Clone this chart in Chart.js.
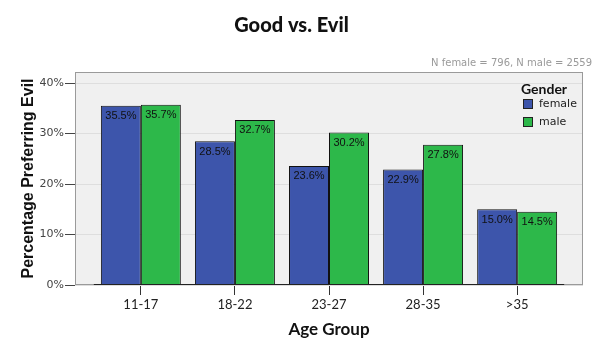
<!DOCTYPE html>
<html lang="en">
<head>
  <meta charset="UTF-8">
  <title>Good vs. Evil</title>
  <script src="https://cdn.jsdelivr.net/npm/chart.js"></script>
  <style>
    body, html {
      margin: 0;
      background: #fff;
    }
    #wrap {
      width: 600px;
      height: 350px;
    }
  </style>
</head>
<body>
  <div id="wrap"><canvas id="evilChart" width="600" height="350"></canvas></div>

  <script>
    // data
    const ageGroups = ["11-17", "18-22", "23-27", "28-35", ">35"];
    const femaleValues = [35.5, 28.5, 23.6, 22.9, 15.0];
    const maleValues = [35.7, 32.7, 30.2, 27.8, 14.5];
    const yTicks = [0, 10, 20, 30, 40];
    const seriesNames = ["female", "male"];
    const noteText = "N female = 796, N male = 2559";

    const colors = ["#3d55ab", "#2db84a"];

    // background panel, baseline, data labels, legend and note
    const decorPlugin = {
      id: "decor",
      beforeDraw(chart) {
        const a = chart.chartArea;
        const ctx = chart.ctx;
        ctx.save();
        ctx.fillStyle = "#f0f0f0";
        ctx.fillRect(a.left, a.top, a.right - a.left, a.bottom - a.top);
        ctx.restore();
      },
      afterDatasetsDraw(chart) {
        const ctx = chart.ctx;
        const a = chart.chartArea;
        const xs = chart.scales.x;
        ctx.save();
        // panel border
        ctx.strokeStyle = "#9a9a9a";
        ctx.lineWidth = 1;
        ctx.strokeRect(a.left + 0.5, a.top + 0.5, a.right - a.left - 1, a.bottom - a.top - 1);
        // dark baseline under the bars
        ctx.strokeStyle = "#222";
        ctx.beginPath();
        ctx.moveTo(xs.getPixelForValue(-0.5), a.bottom - 0.5);
        ctx.lineTo(xs.getPixelForValue(ageGroups.length - 0.5), a.bottom - 0.5);
        ctx.stroke();

        // value labels inside the bar tops
        ctx.font = "11px 'Liberation Sans', sans-serif";
        ctx.fillStyle = "#111";
        ctx.textAlign = "center";
        ctx.textBaseline = "top";
        chart.data.datasets.forEach((ds, di) => {
          chart.getDatasetMeta(di).data.forEach((bar, i) => {
            ctx.fillText(ds.data[i].y.toFixed(1) + "%", bar.x, bar.y + 5);
          });
        });

        // legend
        ctx.textAlign = "left";
        ctx.textBaseline = "middle";
        ctx.font = "bold 14px Lato, sans-serif";
        ctx.fillStyle = "#111";
        ctx.fillText("Gender", 521, 89);
        ctx.font = "11px 'DejaVu Sans', sans-serif";
        seriesNames.forEach((name, i) => {
          const y = 104 + i * 18;
          ctx.fillStyle = colors[i];
          ctx.fillRect(523, y - 5, 10, 10);
          ctx.strokeStyle = "#222";
          ctx.strokeRect(523.5, y - 4.5, 9, 9);
          ctx.fillStyle = "#222";
          ctx.fillText(name, 539, y);
        });

        // sample size note
        ctx.font = "10px 'DejaVu Sans', sans-serif";
        ctx.fillStyle = "#9a9a9a";
        ctx.textAlign = "right";
        ctx.fillText(noteText, 592, 63);
        ctx.restore();
      }
    };

    const ctx = document.getElementById("evilChart").getContext("2d");
    new Chart(ctx, {
      type: "bar",
      data: {
        datasets: [
          {
            label: seriesNames[0],
            data: femaleValues.map((v, i) => ({ x: i, y: v })),
            backgroundColor: colors[0],
            borderColor: "#111",
            borderWidth: 1
          },
          {
            label: seriesNames[1],
            data: maleValues.map((v, i) => ({ x: i, y: v })),
            backgroundColor: colors[1],
            borderColor: "#111",
            borderWidth: 1
          }
        ]
      },
      options: {
        responsive: false,
        animation: false,
        categoryPercentage: 0.85,
        barPercentage: 1.0,
        layout: { padding: { left: 0, right: 17, top: 0, bottom: 0 } },
        plugins: {
          legend: { display: false },
          tooltip: { enabled: false },
          title: {
            display: true,
            text: "Good vs. Evil",
            color: "#111",
            font: { family: "Lato, sans-serif", size: 20, weight: "900" },
            padding: { top: 14, bottom: 34 }
          }
        },
        scales: {
          x: {
            type: "linear",
            offset: false,
            min: -0.7,
            max: ageGroups.length - 0.3,
            afterBuildTicks(scale) {
              scale.ticks = ageGroups.map((_, i) => ({ value: i }));
            },
            afterFit(scale) { scale.height = 65; },
            ticks: {
              callback: (v) => ageGroups[v],
              color: "#222",
              font: { family: "Lato, sans-serif", size: 13 },
              padding: 2,
              maxRotation: 0
            },
            grid: {
              offset: false,
              drawOnChartArea: false,
              drawTicks: true,
              tickLength: 10,
              tickColor: "#333"
            },
            border: { display: false },
            title: {
              display: true,
              text: "Age Group",
              color: "#111",
              font: { family: "Lato, sans-serif", size: 17, weight: "bold" },
              padding: { top: 8, bottom: 10 }
            }
          },
          y: {
            min: 0,
            max: 42.2,
            afterBuildTicks(scale) {
              scale.ticks = yTicks.map(v => ({ value: v }));
            },
            afterFit(scale) { scale.width = 75; },
            ticks: {
              callback: (v) => v + "%",
              color: "#444",
              font: { family: "'DejaVu Sans', sans-serif", size: 11 },
              padding: 1
            },
            grid: {
              color: "#dedede",
              tickColor: "#444",
              tickLength: 10
            },
            border: { display: false },
            title: {
              display: true,
              text: "Percentage Preferring Evil",
              color: "#111",
              font: { family: "'Liberation Sans', sans-serif", size: 16, weight: "bold" },
              padding: { top: 19, bottom: 0 }
            }
          }
        }
      },
      plugins: [decorPlugin]
    });
  </script>
</body>
</html>
